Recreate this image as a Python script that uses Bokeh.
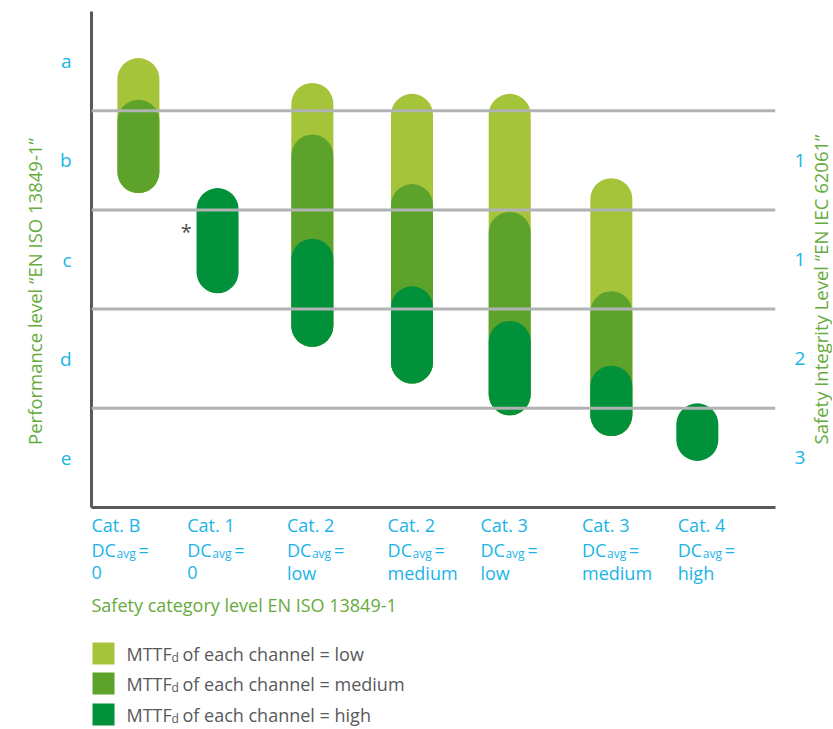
import math
from bokeh.plotting import figure
from bokeh.models import Range1d, LinearAxis, FixedTicker, Span, ColumnDataSource
from bokeh.layouts import column, row
from bokeh.embed import file_html
from bokeh.resources import INLINE
from bokeh.core.properties import value

# ---------------- data ----------------
categories = ["Cat. B", "Cat. 1", "Cat. 2", "Cat. 2", "Cat. 3", "Cat. 3", "Cat. 4"]
dc_avg = ["0", "0", "low", "medium", "low", "medium", "high"]
label_x = [0.0, 0.98, 2.0, 3.03, 3.98, 5.02, 6.0]
bar_x = [0.48, 1.29, 2.26, 3.28, 4.28, 5.32, 6.20]
# performance-level scale: 0 = top of "a", 5 = bottom of "e"
low_top = [0.47, None, 0.72, 0.83, 0.83, 1.68, None]
medium_top = [0.89, None, 1.24, 1.74, 2.02, 2.82, None]
high_top = [None, 1.78, 2.29, 2.77, 3.12, 3.57, 3.95]
bar_bottom = [1.83, 2.84, 3.38, 3.75, 4.07, 4.28, 4.53]
pl_levels = ["a", "b", "c", "d", "e"]
pl_ticks = [0.5, 1.5, 2.5, 3.5, 4.5]
pl_bounds = [1, 2, 3, 4]
sil_labels = ["1", "1", "2", "3"]
sil_ticks = [1.5, 2.5, 3.5, 4.5]
mttf_levels = ["low", "medium", "high"]
left_title = "Performance level \u201cEN ISO 13849-1\u201d"
right_title = "Safety Integrity Level \u201cEN IEC 62061\u201d"
x_title = "Safety category level EN ISO 13849-1"

# ---------------- styles ----------------
FONT = "Open Sans"
CYAN = "#1ab4e9"
GREEN_TXT = "#66ab3c"
GRAY_TXT = "#58595b"
AXIS = "#58595b"
GRID = "#b0b2b4"
COLORS = {"low": "#a5c43a", "medium": "#5ca22b", "high": "#00913a"}

TOTAL_H = 728
WL = 50          # left title strip
WR = 24          # right title strip
WM = 832 - WL - WR
H1 = 511
H2 = TOTAL_H - H1


def blank(width, height, xr, yr):
    f = figure(width=width, height=height, x_range=xr, y_range=yr,
               output_backend="svg", toolbar_location=None,
               x_axis_location=None, y_axis_location=None,
               min_border_left=0, min_border_right=0, min_border_top=0, min_border_bottom=0)
    f.outline_line_color = None
    f.grid.visible = False
    return f


p1 = figure(width=WM, height=H1, x_range=Range1d(0, 7), y_range=Range1d(5, 0),
            output_backend="svg", toolbar_location=None,
            x_axis_location=None, y_axis_location=None,
            min_border_left=41, min_border_right=33, min_border_top=11, min_border_bottom=4)
p1.outline_line_color = None
p1.grid.visible = False

left = LinearAxis(ticker=FixedTicker(ticks=pl_ticks),
                  major_label_overrides={t: l for t, l in zip(pl_ticks, pl_levels)})
left.axis_line_color = AXIS
left.axis_line_width = 3
left.major_tick_line_color = None
left.minor_tick_line_color = None
left.major_tick_out = 0
left.major_tick_in = 0
left.major_label_standoff = 20
left.major_label_text_font = FONT
left.major_label_text_font_size = "19px"
left.major_label_text_color = CYAN
p1.add_layout(left, "left")

right = LinearAxis(ticker=FixedTicker(ticks=sil_ticks),
                   major_label_overrides={t: l for t, l in zip(sil_ticks, sil_labels)})
right.axis_line_color = None
right.major_tick_line_color = None
right.minor_tick_line_color = None
right.major_tick_out = 0
right.major_tick_in = 0
right.major_label_standoff = 19
right.major_label_text_font = FONT
right.major_label_text_font_size = "19px"
right.major_label_text_color = CYAN
p1.add_layout(right, "right")

bottom = LinearAxis(ticker=FixedTicker(ticks=[]))
bottom.axis_line_color = AXIS
bottom.axis_line_width = 3
bottom.major_tick_line_color = None
bottom.minor_tick_line_color = None
bottom.major_tick_out = 0
bottom.major_label_text_font_size = "0px"
p1.add_layout(bottom, "below")


def series(tops):
    idx = [i for i, t in enumerate(tops) if t is not None]
    return ColumnDataSource(dict(x=[bar_x[i] for i in idx],
                                 top=[tops[i] for i in idx],
                                 bottom=[bar_bottom[i] for i in idx]))


for name, tops in zip(mttf_levels, [low_top, medium_top, high_top]):
    p1.vbar(x="x", top="top", bottom="bottom", width=0.43, source=series(tops),
            fill_color=COLORS[name], line_color=None, border_radius=21)

for b in pl_bounds:
    p1.add_layout(Span(location=b, dimension="width", line_color=GRID, line_width=3))

p1.text(x=[0.97], y=[2.22], text=["*"], text_font=value(FONT), text_font_size="20px",
        text_color="#4d4d4f", text_align="center", text_baseline="middle")

# ---------------- lower panel: category labels + legend ----------------
p2 = figure(width=WM, height=H2, x_range=p1.x_range, y_range=Range1d(H2, 0),
            output_backend="svg", toolbar_location=None,
            x_axis_location=None, y_axis_location=None,
            min_border_left=41, min_border_right=33, min_border_top=0, min_border_bottom=0)
p2.outline_line_color = None
p2.grid.visible = False

common = dict(text_font=value(FONT), text_align="left", text_baseline="middle")
n = len(categories)
p2.text(x=label_x, y=[13] * n, text=categories, text_font_size="18px", text_color=CYAN, **common)
p2.text(x=label_x, y=[38] * n, text=["DC"] * n, text_font_size="18px", text_color=CYAN, **common)
p2.text(x=label_x, y=[42] * n, text=["avg"] * n, x_offset=25, text_font_size="12px",
        text_color=CYAN, **common)
p2.text(x=label_x, y=[38] * n, text=["="] * n, x_offset=47, text_font_size="18px",
        text_color=CYAN, **common)
p2.text(x=label_x, y=[61] * n, text=dc_avg, text_font_size="18px", text_color=CYAN, **common)

p2.text(x=[0.0], y=[93], text=[x_title], text_font_size="18px", text_color=GREEN_TXT, **common)

leg_y = [142, 172, 203]
p2.scatter(x=[0.123] * 3, y=leg_y, marker="square", size=22, line_color=None,
           fill_color=[COLORS[m] for m in mttf_levels])
p2.text(x=[0.358] * 3, y=leg_y, text=["MTTF"] * 3, text_font_size="18px", text_color=GRAY_TXT, **common)
p2.text(x=[0.358] * 3, y=[v + 4 for v in leg_y], text=["d"] * 3, x_offset=45, text_font_size="12px",
        text_color=GRAY_TXT, **common)
p2.text(x=[0.358] * 3, y=leg_y, text=["of each channel = " + m for m in mttf_levels], x_offset=56,
        text_font_size="18px", text_color=GRAY_TXT, **common)

# ---------------- side strips for the vertical axis titles ----------------
pL = blank(WL, TOTAL_H, Range1d(0, WL), Range1d(TOTAL_H, 0))
pL.text(x=[34], y=[291], text=[left_title], angle=math.pi / 2, text_font=value(FONT),
        text_font_size="18.5px", text_color=GREEN_TXT, text_align="center", text_baseline="middle")
pR = blank(WR, TOTAL_H, Range1d(0, WR), Range1d(TOTAL_H, 0))
pR.text(x=[12], y=[289], text=[right_title], angle=math.pi / 2, text_font=value(FONT),
        text_font_size="18.5px", text_color=GREEN_TXT, text_align="center", text_baseline="middle")

layout = row(pL, column(p1, p2, spacing=0), pR, spacing=0)
open("out.html", "w").write(file_html(layout, INLINE))
